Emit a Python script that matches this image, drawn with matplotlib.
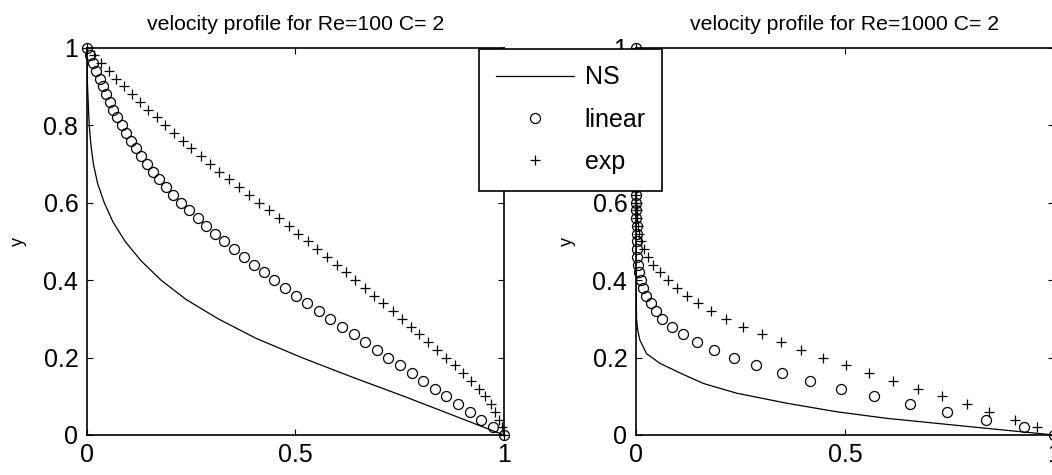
import numpy as np
import matplotlib.pyplot as plt

plt.rcParams['font.family'] = ['Liberation Sans', 'DejaVu Sans']

# sample heights of the two models (same grid for both Re)
y_pts = [1.00, 0.98, 0.96, 0.94, 0.92, 0.90, 0.88, 0.86, 0.84, 0.82,
         0.80, 0.78, 0.76, 0.74, 0.72, 0.70, 0.68, 0.66, 0.64, 0.62,
         0.60, 0.58, 0.56, 0.54, 0.52, 0.50, 0.48, 0.46, 0.44, 0.42,
         0.40, 0.38, 0.36, 0.34, 0.32, 0.30, 0.28, 0.26, 0.24, 0.22,
         0.20, 0.18, 0.16, 0.14, 0.12, 0.10, 0.08, 0.06, 0.04, 0.02, 0.00]

# Re=100
ns_100_y = [1.00, 0.95, 0.90, 0.85, 0.80, 0.75, 0.70, 0.65, 0.60, 0.55, 0.50,
            0.45, 0.40, 0.35, 0.30, 0.25, 0.20, 0.15, 0.10, 0.05, 0.00]
ns_100_x = [0.000, 0.001, 0.002, 0.004, 0.006, 0.010, 0.016, 0.026, 0.042, 0.063, 0.092,
            0.130, 0.178, 0.238, 0.315, 0.405, 0.515, 0.635, 0.760, 0.880, 1.000]
lin_100 = [0.000, 0.008, 0.015, 0.023, 0.031, 0.039, 0.047, 0.055, 0.064, 0.073,
           0.084, 0.095, 0.107, 0.119, 0.131, 0.144, 0.158, 0.173, 0.190, 0.208,
           0.227, 0.246, 0.266, 0.287, 0.308, 0.330, 0.353, 0.377, 0.401, 0.425,
           0.450, 0.476, 0.502, 0.529, 0.557, 0.584, 0.612, 0.640, 0.668, 0.696,
           0.722, 0.750, 0.779, 0.807, 0.834, 0.862, 0.890, 0.918, 0.946, 0.974, 1.000]
exp_100 = [0.000, 0.017, 0.035, 0.053, 0.071, 0.090, 0.109, 0.128, 0.148, 0.168,
           0.188, 0.209, 0.230, 0.251, 0.273, 0.295, 0.318, 0.341, 0.365, 0.389,
           0.413, 0.437, 0.460, 0.484, 0.507, 0.530, 0.553, 0.576, 0.599, 0.622,
           0.644, 0.667, 0.689, 0.711, 0.733, 0.755, 0.776, 0.797, 0.818, 0.839,
           0.862, 0.883, 0.902, 0.921, 0.939, 0.955, 0.968, 0.979, 0.988, 0.995, 1.000]

# Re=1000
ns_1000_y = [1.00, 0.60, 0.40, 0.30, 0.27, 0.245, 0.21, 0.185, 0.16, 0.133,
             0.108, 0.082, 0.06, 0.043, 0.03, 0.017, 0.00]
ns_1000_x = [0.000, 0.0003, 0.001, 0.002, 0.005, 0.010, 0.026, 0.058, 0.106, 0.162,
             0.241, 0.361, 0.480, 0.600, 0.720, 0.840, 1.000]
lin_1000 = [0.000, 0.000, 0.000, 0.000, 0.000, 0.000, 0.000, 0.000, 0.000, 0.000,
            0.0001, 0.0001, 0.0002, 0.0002, 0.0003, 0.0003, 0.0004, 0.0005, 0.0006, 0.0008,
            0.001, 0.001, 0.0015, 0.002, 0.002, 0.002, 0.003, 0.004, 0.006, 0.008,
            0.012, 0.017, 0.025, 0.036, 0.048, 0.064, 0.087, 0.114, 0.147, 0.188,
            0.234, 0.287, 0.349, 0.416, 0.490, 0.570, 0.656, 0.744, 0.836, 0.928, 1.000]
exp_1000 = [0.000, 0.000, 0.000, 0.000, 0.000, 0.000, 0.000, 0.000, 0.000, 0.000,
            0.0002, 0.0002, 0.0003, 0.0003, 0.0004, 0.0005, 0.0006, 0.0007, 0.0008, 0.0009,
            0.001, 0.002, 0.003, 0.005, 0.008, 0.013, 0.020, 0.030, 0.042, 0.058,
            0.076, 0.098, 0.122, 0.150, 0.181, 0.215, 0.257, 0.301, 0.347, 0.395,
            0.447, 0.502, 0.558, 0.615, 0.674, 0.731, 0.791, 0.845, 0.905, 0.958, 1.000]

titles = ['velocity profile for Re=100 C= 2', 'velocity profile for Re=1000 C= 2']
labels = ['NS', 'linear', 'exp']

W, H = 1052, 475
fig = plt.figure(figsize=(W / 100, H / 100), dpi=100)

# axes boxes in pixels: left, bottom(from top), width, height
boxes = [(86.7, 435.0, 417.3, 387.3), (635.7, 435.0, 418.6, 387.3)]
data = [(ns_100_x, ns_100_y, lin_100, exp_100), (ns_1000_x, ns_1000_y, lin_1000, exp_1000)]

axes = []
for (x0, yb, w, h), (nsx, nsy, lin, ex), title in zip(boxes, data, titles):
    ax = fig.add_axes([x0 / W, (H - yb) / H, w / W, h / H])
    ax.plot(nsx, nsy, color='k', lw=0.9, label=labels[0])
    ax.plot(lin, y_pts, ls='none', marker='o', ms=7.2, mfc='none', mec='k', mew=0.9,
            label=labels[1], clip_on=False)
    ax.plot(ex, y_pts, ls='none', marker='+', ms=6.5, mec='k', mew=0.9,
            label=labels[2], clip_on=False)
    ax.set_xlim(0, 1)
    ax.set_ylim(0, 1)
    ax.set_xticks([0, 0.5, 1])
    ax.set_xticklabels(['0', '0.5', '1'])
    ax.set_yticks([0, 0.2, 0.4, 0.6, 0.8, 1])
    ax.set_yticklabels(['0', '0.2', '0.4', '0.6', '0.8', '1'])
    ax.tick_params(direction='in', length=4, width=0.8, top=True, right=True,
                   labelsize=18, pad=6)
    for s in ax.spines.values():
        s.set_linewidth(1.2)
    ax.set_title(title, fontsize=15.3, pad=12.5)
    ax.set_ylabel('y', fontsize=13, labelpad=12)
    axes.append(ax)

h_, l_ = axes[0].get_legend_handles_labels()
leg = fig.legend(h_, l_, loc='upper left', bbox_to_anchor=(479 / W, 1 - 49 / H),
                 bbox_transform=fig.transFigure, borderaxespad=0, fontsize=18,
                 fancybox=False, framealpha=1, edgecolor='k', handlelength=3.15,
                 handletextpad=0.42, borderpad=0.66, labelspacing=0.73)
leg.get_frame().set_linewidth(1.2)

fig.savefig('out.png', dpi=100)
